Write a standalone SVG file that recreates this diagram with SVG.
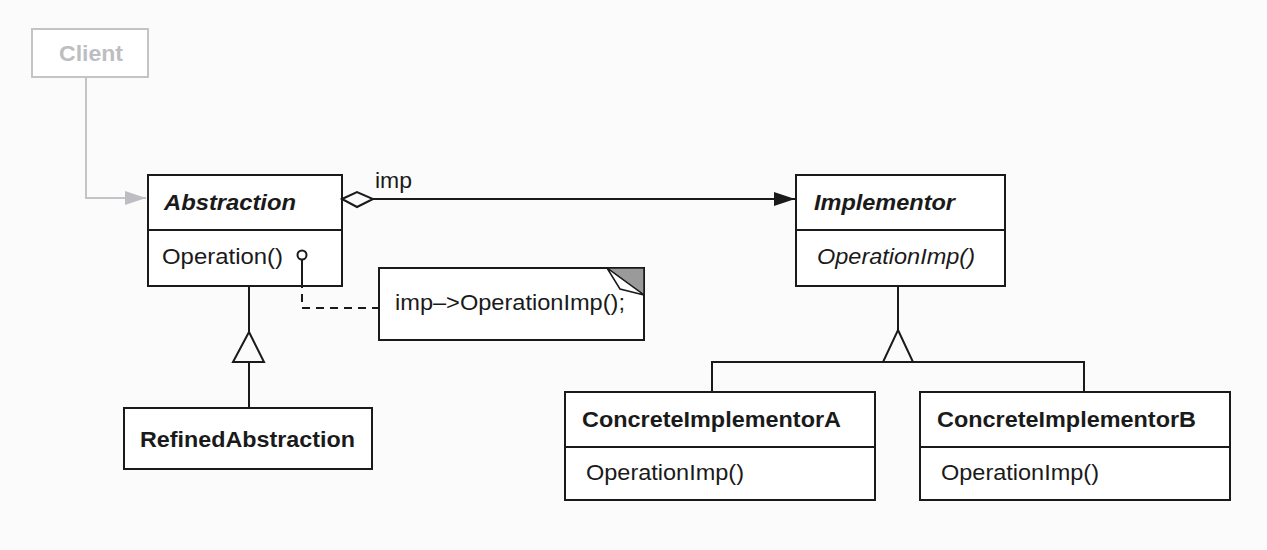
<svg xmlns="http://www.w3.org/2000/svg" width="1267" height="550" viewBox="0 0 1267 550">
<defs>
<style>
.box{fill:#fff;stroke:#1a1a1a;stroke-width:2}
.ln{fill:none;stroke:#1a1a1a;stroke-width:2}
.t{font-family:"Liberation Sans",Arial,sans-serif;font-size:22px;fill:#1a1a1a}
.b{font-weight:bold}
.i{font-style:italic}
.gray{stroke:#c4c4c8}
</style>
<marker id="filled" markerWidth="22" markerHeight="14" refX="21" refY="7" orient="auto" markerUnits="userSpaceOnUse">
<path d="M0,0 L21,7 L0,14 Z" fill="#1a1a1a"/>
</marker>
<marker id="grayArrow" markerWidth="22" markerHeight="14" refX="21" refY="7" orient="auto" markerUnits="userSpaceOnUse">
<path d="M0,0 L21,7 L0,14 Z" fill="#bdbdc2"/>
</marker>
</defs>
<rect width="1267" height="550" fill="#fbfbfb"/>

<g id="client">
<rect x="32" y="29" width="116" height="48" fill="#fff" stroke="#c4c4c8" stroke-width="2"/>
<text class="t b" x="91" y="61" text-anchor="middle" style="fill:#bdbdc2" font-size="21" textLength="64" lengthAdjust="spacingAndGlyphs">Client</text>
</g>

<g id="abstraction">
<rect class="box" x="148" y="175" width="194" height="111"/>
<line class="ln" x1="148" y1="230" x2="342" y2="230"/>
<text class="t b i" x="164" y="210" textLength="132" lengthAdjust="spacingAndGlyphs">Abstraction</text>
<text class="t" x="162" y="264" textLength="121" lengthAdjust="spacingAndGlyphs">Operation()</text>
</g>

<g id="note">
<rect class="box" x="379" y="268" width="265" height="72"/>
<polygon points="607,268 644,268 644,295" fill="#9a9a9a" stroke="#1a1a1a" stroke-width="1.5"/>
<polygon points="607,268 620,289 644,295" fill="#fff" stroke="#1a1a1a" stroke-width="1.5"/>
<text class="t" x="395" y="310" textLength="230" lengthAdjust="spacingAndGlyphs">imp–&gt;OperationImp();</text>
</g>

<g id="implementor">
<rect class="box" x="796" y="175" width="209" height="111"/>
<line class="ln" x1="796" y1="230" x2="1005" y2="230"/>
<text class="t b i" x="814" y="210" textLength="141" lengthAdjust="spacingAndGlyphs">Implementor</text>
<text class="t i" x="817" y="264" textLength="158" lengthAdjust="spacingAndGlyphs">OperationImp()</text>
</g>

<g id="refinedAbstraction">
<rect class="box" x="124" y="408" width="248" height="61"/>
<text class="t b" x="140" y="447" textLength="215" lengthAdjust="spacingAndGlyphs">RefinedAbstraction</text>
</g>

<g id="concreteImplementorA">
<rect class="box" x="565" y="392" width="310" height="108"/>
<line class="ln" x1="565" y1="447" x2="875" y2="447"/>
<text class="t b" x="582" y="427" textLength="259" lengthAdjust="spacingAndGlyphs">ConcreteImplementorA</text>
<text class="t" x="586" y="480" textLength="158" lengthAdjust="spacingAndGlyphs">OperationImp()</text>
</g>

<g id="concreteImplementorB">
<rect class="box" x="920" y="392" width="310" height="108"/>
<line class="ln" x1="920" y1="447" x2="1230" y2="447"/>
<text class="t b" x="937" y="427" textLength="259" lengthAdjust="spacingAndGlyphs">ConcreteImplementorB</text>
<text class="t" x="941" y="480" textLength="158" lengthAdjust="spacingAndGlyphs">OperationImp()</text>
</g>

<g id="connectors">
<polyline class="ln gray" points="86,77 86,198 146,198" marker-end="url(#grayArrow)"/>
<line class="ln" x1="373" y1="199" x2="795" y2="199" marker-end="url(#filled)"/>
<polygon class="ln" points="342,199 357,192 373,199 357,207" fill="#fff"/>
<text class="t" x="375" y="188" font-size="21" textLength="37" lengthAdjust="spacingAndGlyphs">imp</text>
<line class="ln" x1="249" y1="286" x2="249" y2="332"/>
<polygon class="ln" points="249,332 264,362 233,362" fill="#fff"/>
<line class="ln" x1="249" y1="362" x2="249" y2="408"/>
<line class="ln" x1="898" y1="286" x2="898" y2="330"/>
<polygon class="ln" points="898,330 913,362 883,362" fill="#fff"/>
<polyline class="ln" points="712,392 712,362 1084,362 1084,392"/>
<circle class="ln" cx="302" cy="255" r="4.5" fill="#fff"/>
<line class="ln" x1="302" y1="260" x2="302" y2="280"/>
<polyline class="ln" points="302,280 302,308 378,308" stroke-dasharray="8,6"/>
</g>
</svg>
